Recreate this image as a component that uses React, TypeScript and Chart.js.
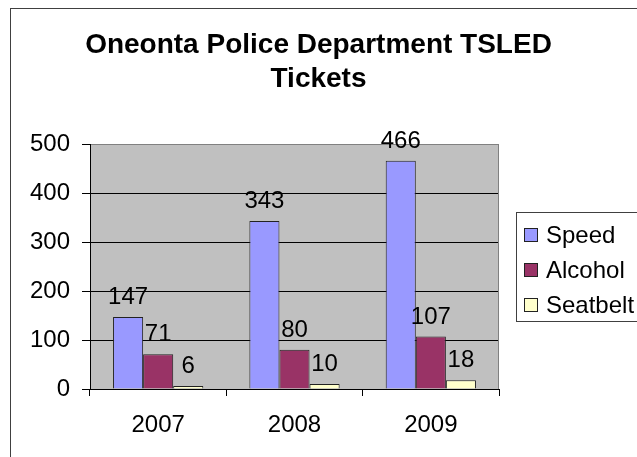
import React, { useEffect, useRef } from "react";
import { Chart, registerables } from "chart.js";

Chart.register(...registerables);

const categories = ["2007", "2008", "2009"];
const seriesNames = ["Speed", "Alcohol", "Seatbelt"];
const speed = [147, 343, 466];
const alcohol = [71, 80, 107];
const seatbelt = [6, 10, 18];
const yTicks = [0, 100, 200, 300, 400, 500];
const titleLines = ["Oneonta Police Department TSLED", "Tickets"];

const seriesColors = ["#9999FF", "#993366", "#FFFFCC"];
const FONT = "'Liberation Sans', Arial, sans-serif";

const framePlugin = {
  id: "frame",
  beforeDraw(chart: any) {
    const { ctx, chartArea: a } = chart;
    ctx.save();
    ctx.fillStyle = "#C0C0C0";
    ctx.fillRect(a.left, a.top, a.right - a.left, a.bottom - a.top);
    ctx.strokeStyle = "#404040";
    ctx.lineWidth = 1;
    ctx.strokeRect(10.5, 8.5, 1000, 1000);
    // title
    ctx.fillStyle = "#000";
    ctx.font = `bold 28px ${FONT}`;
    ctx.textAlign = "center";
    ctx.textBaseline = "alphabetic";
    titleLines.forEach((line, i) => {
      ctx.fillText(line, 318.5, 53 + i * 34);
    });
    ctx.restore();
  },
  beforeDatasetsDraw(chart: any) {
    const { ctx, chartArea: a } = chart;
    ctx.save();
    ctx.strokeStyle = "#808080";
    ctx.lineWidth = 1;
    ctx.beginPath();
    const r = Math.round(a.right) - 0.5;
    ctx.moveTo(r, Math.round(a.top) + 0.5);
    ctx.lineTo(r, Math.round(a.bottom));
    ctx.stroke();
    ctx.restore();
  },
  afterDatasetsDraw(chart: any) {
    const { ctx } = chart;
    ctx.save();
    ctx.font = `24px ${FONT}`;
    ctx.fillStyle = "#000";
    ctx.textAlign = "center";
    ctx.textBaseline = "alphabetic";
    chart.data.datasets.forEach((ds: any, i: number) => {
      const meta = chart.getDatasetMeta(i);
      meta.data.forEach((el: any, j: number) => {
        ctx.fillText(String(ds.data[j]), el.x, el.y - 13);
      });
    });
    ctx.restore();
  },
  afterDraw(chart: any) {
    const { ctx } = chart;
    ctx.save();
    ctx.strokeStyle = "#404040";
    ctx.lineWidth = 1;
    ctx.strokeRect(516.5, 212.5, 300, 109);
    ctx.font = `24px ${FONT}`;
    ctx.textAlign = "left";
    ctx.textBaseline = "middle";
    chart.data.datasets.forEach((ds: any, i: number) => {
      const y = 235 + i * 35;
      ctx.fillStyle = ds.backgroundColor;
      ctx.fillRect(524, y - 7, 14, 14);
      ctx.strokeStyle = "#222";
      ctx.strokeRect(524.5, y - 6.5, 13, 13);
      ctx.fillStyle = "#000";
      ctx.fillText(ds.label, 546, y + 1);
    });
    ctx.restore();
  },
};

export default function App() {
  const ref = useRef<HTMLCanvasElement | null>(null);
  useEffect(() => {
    if (!ref.current) return;
    const seriesValues = [speed, alcohol, seatbelt];
    const chart = new Chart(ref.current, {
      type: "bar",
      data: {
        labels: categories,
        datasets: seriesNames.map((name, i) => ({
          label: name,
          data: seriesValues[i],
          backgroundColor: seriesColors[i],
          borderColor: "#222",
          borderWidth: 1,
          categoryPercentage: 0.662,
          barPercentage: 1.0,
        })),
      },
      options: {
        responsive: false,
        animation: false,
        devicePixelRatio: 1,
        layout: { padding: { top: 144, left: 0, right: 138, bottom: 18 } },
        plugins: {
          legend: { display: false },
          tooltip: { enabled: false },
          title: { display: false },
        },
        scales: {
          x: {
            grid: {
              display: true,
              drawOnChartArea: false,
              drawTicks: true,
              tickLength: 7,
              color: "#000",
              offset: true,
            },
            border: { display: true, color: "#000", width: 1 },
            ticks: { color: "#000", font: { family: FONT, size: 24 }, padding: 15, maxRotation: 0 },
            afterFit(scale: any) {
              scale.height = 50;
            },
          },
          y: {
            min: yTicks[0],
            max: yTicks[yTicks.length - 1],
            afterBuildTicks(scale: any) {
              scale.ticks = yTicks.map((v) => ({ value: v }));
            },
            grid: {
              color: (c: any) => (c.tick && c.tick.value === 500 ? "#808080" : "#000"),
              tickColor: "#000",
              tickLength: 8,
              drawTicks: true,
            },
            border: { display: true, color: "#000", width: 1 },
            ticks: { color: "#000", font: { family: FONT, size: 24 }, padding: 12 },
            afterFit(scale: any) {
              scale.width = 90;
            },
          },
        },
      },
      plugins: [framePlugin],
    });
    return () => chart.destroy();
  }, []);
  return (
    <div style={{ position: "fixed", left: 0, top: 0, width: 637, height: 457, background: "#fff" }}>
      <canvas ref={ref} width={637} height={457} style={{ display: "block" }} />
    </div>
  );
}
